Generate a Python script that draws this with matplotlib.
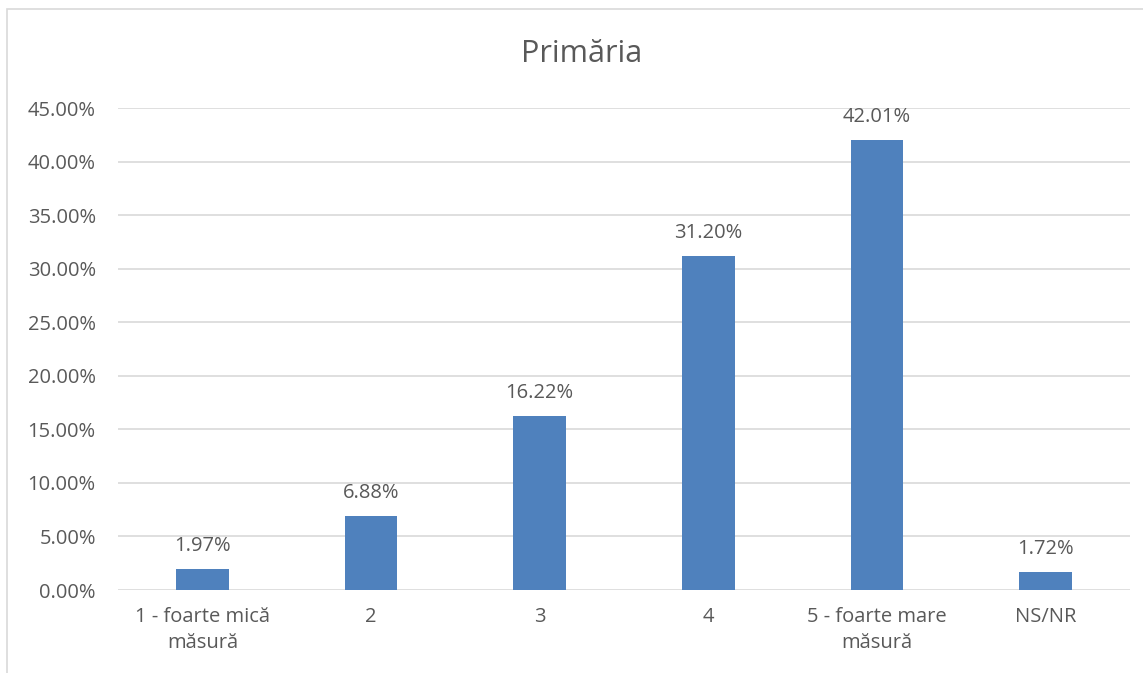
import numpy as np
import matplotlib
matplotlib.use('Agg')
import matplotlib.pyplot as plt
from matplotlib.patches import Rectangle

plt.rcParams['font.family'] = ['Open Sans', 'DejaVu Sans']

categories = ['1 - foarte mică\nmăsură', '2', '3', '4', '5 - foarte mare\nmăsură', 'NS/NR']
values = [1.97, 6.88, 16.22, 31.20, 42.01, 1.72]
yticks = [0, 5, 10, 15, 20, 25, 30, 35, 40, 45]

BAR = '#4f81bd'
TXT = '#595959'
GRID = '#d9d9d9'
FS = 14.5

W, H = 1143, 673
fig = plt.figure(figsize=(W / 100, H / 100), dpi=100)
ax = fig.add_axes([118 / W, 83 / H, (1130 - 118) / W, (590 - 108) / H])

x = np.arange(len(categories))
ax.bar(x, values, width=0.314, color=BAR, zorder=3)
for xi, v in zip(x, values):
    ax.text(xi, v + 1.2, f'{v:.2f}%', ha='center', va='bottom',
            fontsize=FS, color=TXT)

ax.set_xlim(-0.5, len(categories) - 0.5)
ax.set_ylim(0, 45)
ax.set_yticks(yticks)
ax.set_yticklabels([f'{t:.2f}%' for t in yticks], fontsize=FS, color=TXT)
ax.set_xticks(x)
ax.set_xticklabels(categories, fontsize=FS, color=TXT, linespacing=1.4, va='top')
ax.tick_params(axis='x', length=0, pad=12)
ax.tick_params(axis='y', length=0, pad=16)
ax.grid(axis='y', color=GRID, lw=1.2, zorder=0)
for s in ax.spines.values():
    s.set_visible(False)

fig.text(582 / W, 1 - 54 / H, 'Primăria', ha='center', va='center',
         fontsize=22, color=TXT)

fig.patches.append(Rectangle((7 / W, -0.1), 1.2, 1 - 9 / H + 0.1,
                             transform=fig.transFigure, fill=False,
                             edgecolor=GRID, lw=1.2))

fig.savefig('out.png', dpi=100, facecolor='white')
